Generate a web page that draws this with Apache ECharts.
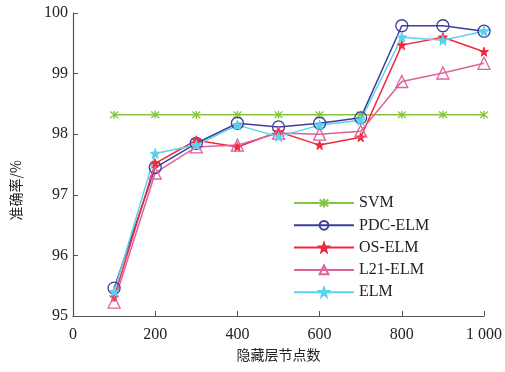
<!DOCTYPE html>
<html>
<head>
<meta charset="utf-8">
<script src="https://cdn.jsdelivr.net/npm/echarts@6/dist/echarts.min.js"></script>
<style>
  html, body { margin: 0; padding: 0; background: #fff; }
  #chart { width: 505px; height: 372px; }
</style>
</head>
<body>
<div id="chart"></div>
<script>
// 隐藏层节点数
const nodes = [100, 200, 300, 400, 500, 600, 700, 800, 900, 1000];

// 准确率 (%)
const svm    = [98.32, 98.32, 98.32, 98.32, 98.32, 98.32, 98.32, 98.32, 98.32, 98.32];
const pdcElm = [95.46, 97.45, 97.85, 98.18, 98.12, 98.18, 98.27, 99.79, 99.79, 99.70];
const osElm  = [95.31, 97.52, 97.90, 97.79, 98.04, 97.82, 97.95, 99.47, 99.60, 99.36];
const l21Elm = [95.23, 97.36, 97.79, 97.82, 98.02, 98.00, 98.05, 98.87, 99.01, 99.17];
const elm    = [95.40, 97.68, 97.82, 98.15, 97.96, 98.15, 98.23, 99.60, 99.55, 99.70];

const seriesNames = ['SVM', 'PDC-ELM', 'OS-ELM', 'L21-ELM', 'ELM'];

const pair = arr => nodes.map((x, i) => [x, arr[i]]);

const starPath = 'path://M0,-10 L2.5,-3 L10,-3 L4,1.5 L6,9 L0,4.5 L-6,9 L-4,1.5 L-10,-3 L-2.5,-3 Z';
const crossPath = 'path://M-8,-8 L8,8 M-8,8 L8,-8 M0,-10 L0,10';

const chart = echarts.init(document.getElementById('chart'));

function line(name, data, color, symbol, size, filled) {
  return {
    name: name,
    type: 'line',
    data: pair(data),
    symbol: symbol,
    symbolSize: size,
    showAllSymbol: true,
    lineStyle: { color: color, width: 1.5 },
    itemStyle: filled
      ? { color: color, borderColor: color, borderWidth: 1 }
      : { color: 'rgba(255,255,255,0)', borderColor: color, borderWidth: 1.3 },
    emphasis: { disabled: true },
    animation: false
  };
}

chart.setOption({
  animation: false,
  grid: { left: 73, right: 20, top: 13, bottom: 56 },
  legend: {
    orient: 'vertical',
    left: 288,
    top: 190,
    itemWidth: 60,
    itemHeight: 11,
    itemGap: 6.3,
    data: seriesNames,
    textStyle: { fontFamily: 'Liberation Serif', fontSize: 16, color: '#222' }
  },
  graphic: [{
    type: 'text',
    left: 9,
    top: 160,
    rotation: Math.PI / 2,
    style: { text: '准确率/%', font: '14px "Noto Sans CJK SC"', fill: '#222' }
  }],
  xAxis: {
    type: 'value',
    min: 0,
    max: 1000,
    interval: 200,
    name: '隐藏层节点数',
    nameLocation: 'middle',
    nameGap: 30,
    nameTextStyle: { fontFamily: 'Noto Sans CJK SC', fontSize: 14, color: '#222' },
    axisLine: { lineStyle: { color: '#555', width: 1.2 } },
    axisTick: { inside: true, length: 5, lineStyle: { color: '#555' } },
    splitLine: { show: false },
    axisLabel: {
      fontFamily: 'Liberation Serif',
      fontSize: 16,
      color: '#222',
      margin: 11,
      formatter: v => (v === 1000 ? '1 000' : String(v))
    }
  },
  yAxis: {
    type: 'value',
    min: 95,
    max: 100,
    interval: 1,
    axisLine: { show: true, lineStyle: { color: '#555', width: 1.2 } },
    axisTick: { show: true, inside: true, length: 5, lineStyle: { color: '#555' } },
    splitLine: { show: false },
    axisLabel: { fontFamily: 'Liberation Serif', fontSize: 16, color: '#222', margin: 5 }
  },
  series: [
    line('SVM', svm, '#86c440', crossPath, 8, false),
    line('PDC-ELM', pdcElm, '#3b3f9a', 'circle', 12, false),
    line('OS-ELM', osElm, '#f2283c', starPath, 9, true),
    line('L21-ELM', l21Elm, '#e0609c', 'triangle', 12, false),
    line('ELM', elm, '#5cd2ea', starPath, 10, true)
  ]
});
</script>
</body>
</html>
